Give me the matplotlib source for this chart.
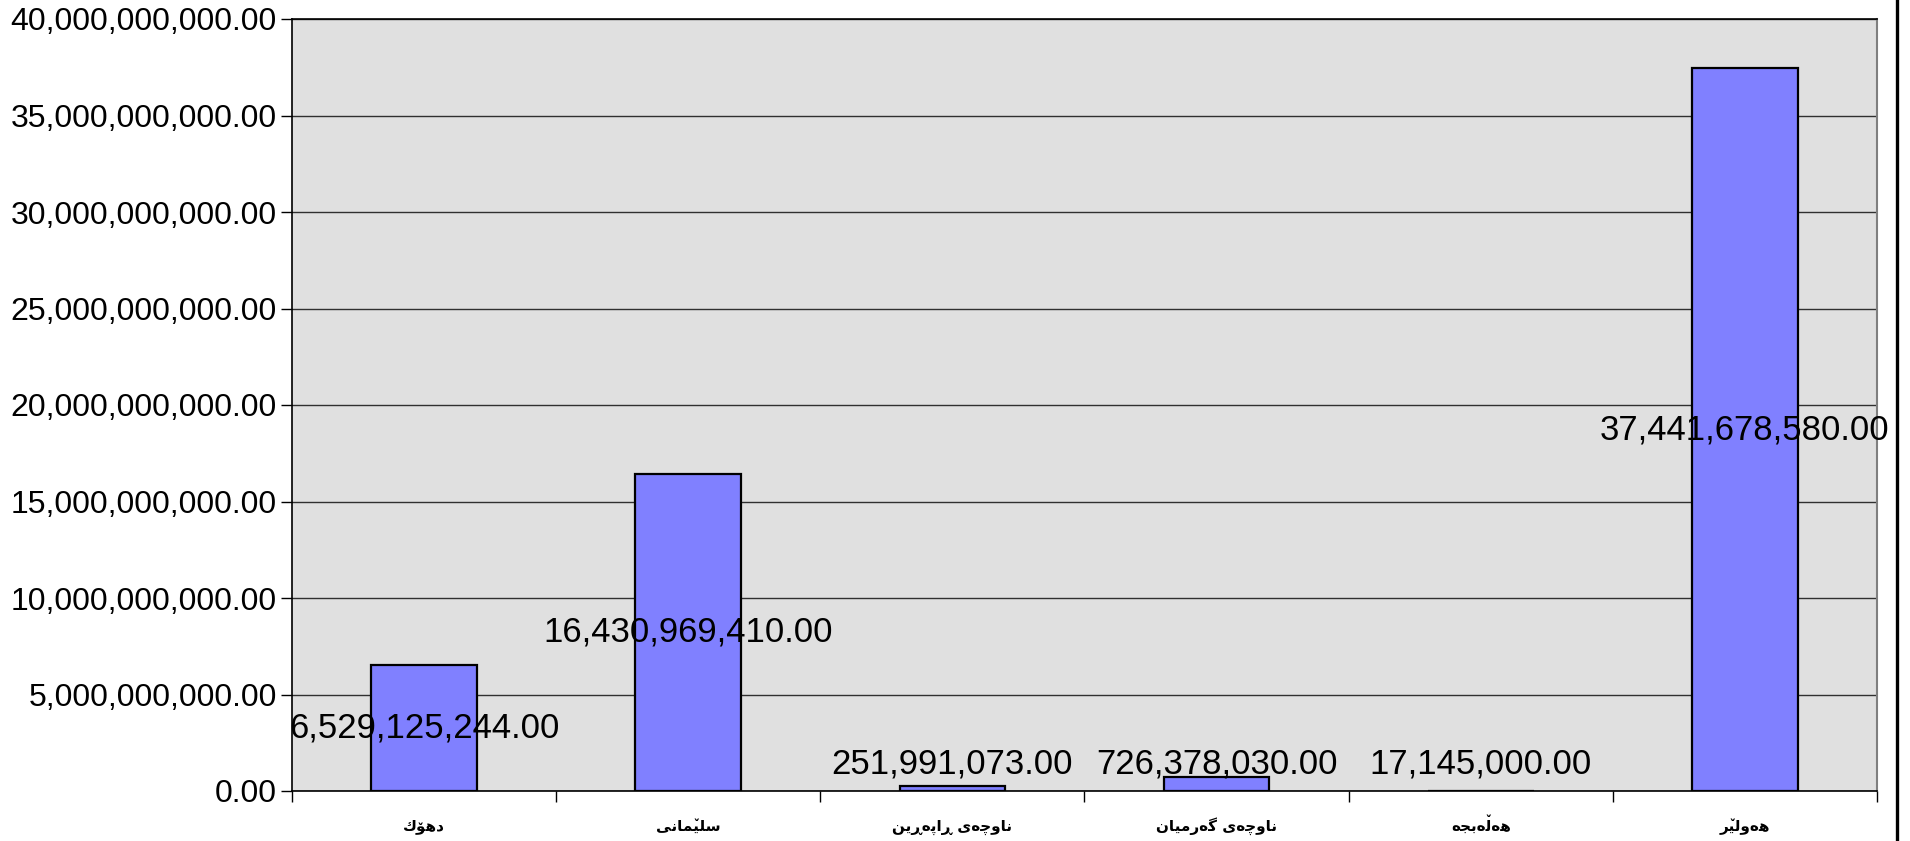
import matplotlib
matplotlib.use('Agg')
import matplotlib.pyplot as plt
from matplotlib.ticker import FuncFormatter, FixedLocator
from matplotlib.font_manager import FontProperties
from matplotlib.transforms import offset_copy
from matplotlib.lines import Line2D

# data
regions = ['دهۆك', 'سلێمانی', 'ناوچەی ڕاپەڕین', 'ناوچەی گەرمیان', 'هەڵەبجە', 'هەولێر']
amounts = [6529125244.00, 16430969410.00, 251991073.00, 726378030.00, 17145000.00, 37441678580.00]
y_ticks = [0, 5e9, 10e9, 15e9, 20e9, 25e9, 30e9, 35e9, 40e9]

## matplotlib has no arabic shaping / bidi, so join letters by hand
## (iso, fin, ini, med) presentation forms
FORMS = {
    'ا': (0xFE8D, 0xFE8E, None, None),
    'ب': (0xFE8F, 0xFE90, 0xFE91, 0xFE92),
    'پ': (0xFB56, 0xFB57, 0xFB58, 0xFB59),
    'ج': (0xFE9D, 0xFE9E, 0xFE9F, 0xFEA0),
    'چ': (0xFB7A, 0xFB7B, 0xFB7C, 0xFB7D),
    'د': (0xFEA9, 0xFEAA, None, None),
    'ر': (0xFEAD, 0xFEAE, None, None),
    'س': (0xFEB1, 0xFEB2, 0xFEB3, 0xFEB4),
    'ك': (0xFED9, 0xFEDA, 0xFEDB, 0xFEDC),
    'گ': (0xFB92, 0xFB93, 0xFB94, 0xFB95),
    'ل': (0xFEDD, 0xFEDE, 0xFEDF, 0xFEE0),
    'م': (0xFEE1, 0xFEE2, 0xFEE3, 0xFEE4),
    'ن': (0xFEE5, 0xFEE6, 0xFEE7, 0xFEE8),
    'ه': (0xFEE9, 0xFEEA, 0xFEEB, 0xFEEC),
    'و': (0xFEED, 0xFEEE, None, None),
    'ۆ': (0xFBD9, 0xFBDA, None, None),
    'ی': (0xFBFC, 0xFBFD, 0xFBFE, 0xFBFF),
}
# kurdish letters with no presentation forms: base letter + small v mark drawn on top
VMARK = {'ێ': 'ی', 'ڵ': 'ل'}
RIGHT_ONLY = {'ڕ', 'ە'}


def dual(c):
    c = VMARK.get(c, c)
    return c in FORMS and FORMS[c][2] is not None


def joining(c):
    return dual(c) or c in FORMS or c in RIGHT_ONLY


def shape(s):
    # returns visual (left to right) list of (glyph, mark letter or None)
    out = []
    for i, c in enumerate(s):
        base = VMARK.get(c, c)
        if base not in FORMS:
            out.append((c, None))
            continue
        prev_j = i > 0 and dual(s[i - 1])
        next_j = dual(c) and i + 1 < len(s) and joining(s[i + 1])
        iso, fin, ini, med = FORMS[base]
        if prev_j and next_j:
            g = med
        elif prev_j:
            g = fin
        elif next_j:
            g = ini
        else:
            g = iso
        out.append((chr(g), c if c in VMARK else None))
    return out[::-1]


fig = plt.figure(figsize=(19.10, 8.41), dpi=100)
ax = fig.add_axes([292 / 1910, 50 / 841, (1877 - 292) / 1910, (791 - 19) / 841])
ax.set_facecolor('#E0E0E0')

x = range(len(regions))
ax.bar(x, amounts, width=0.4, color='#8080FF', edgecolor='black', linewidth=1.6, zorder=3)

for i, v in enumerate(amounts):
    ax.text(i, max(v / 2, 1.4e9), f'{v:,.2f}', ha='center', va='center',
            fontsize=25, family='Liberation Sans', color='black', zorder=4)

ax.set_xlim(-0.5, len(regions) - 0.5)
ax.set_ylim(0, 40e9)
ax.set_yticks(y_ticks)
ax.yaxis.set_major_formatter(FuncFormatter(lambda v, p: f'{v:,.2f}'))
ax.grid(axis='y', color='#303030', linewidth=1, zorder=1)

ax.set_xticks(list(x))
ax.xaxis.set_minor_locator(FixedLocator([i - 0.5 for i in range(len(regions) + 1)]))
ax.tick_params(axis='x', which='major', length=0, labelbottom=False)
ax.tick_params(axis='x', which='minor', length=8, width=1, color='black')
ax.tick_params(axis='y', length=8, width=1, pad=3, labelsize=23)
for lab in ax.get_yticklabels():
    lab.set_family('Liberation Sans')

for side in ['left', 'bottom', 'top']:
    ax.spines[side].set_color('black')
    ax.spines[side].set_linewidth(1.2)
ax.spines['right'].set_color('#808080')
ax.spines['right'].set_linewidth(1.5)

# category labels, with the kurdish v mark placed over its letter
renderer = fig.canvas.get_renderer()
fp = FontProperties(family='DejaVu Sans', weight='bold', size=11)


def width(t):
    if not t:
        return 0
    return renderer.get_text_width_height_descent(t, fp, ismath=False)[0]


trans = ax.get_xaxis_transform()
lab_y = -0.051
for i, r in enumerate(regions):
    cl = shape(r)
    text = ''.join(g for g, m in cl)
    ax.text(i, lab_y, text, ha='center', va='baseline', fontproperties=fp,
            transform=trans, clip_on=False)
    total = width(text)
    for k, (g, m) in enumerate(cl):
        if m is None:
            continue
        a = width(''.join(gg for gg, _ in cl[:k]))
        b = width(''.join(gg for gg, _ in cl[:k + 1]))
        dx = ((a + b) / 2 - total / 2) * 72 / fig.dpi
        dy = 3 if m == 'ڵ' else 0
        ax.text(i, lab_y, '\u065a', ha='center', va='baseline', fontproperties=fp,
                transform=offset_copy(trans, fig=fig, x=dx, y=dy, units='points'),
                clip_on=False)

fig.add_artist(Line2D([1896.5 / 1910] * 2, [0, 1], transform=fig.transFigure,
                      color='black', linewidth=2.4))

fig.savefig('out.png', dpi=100)
